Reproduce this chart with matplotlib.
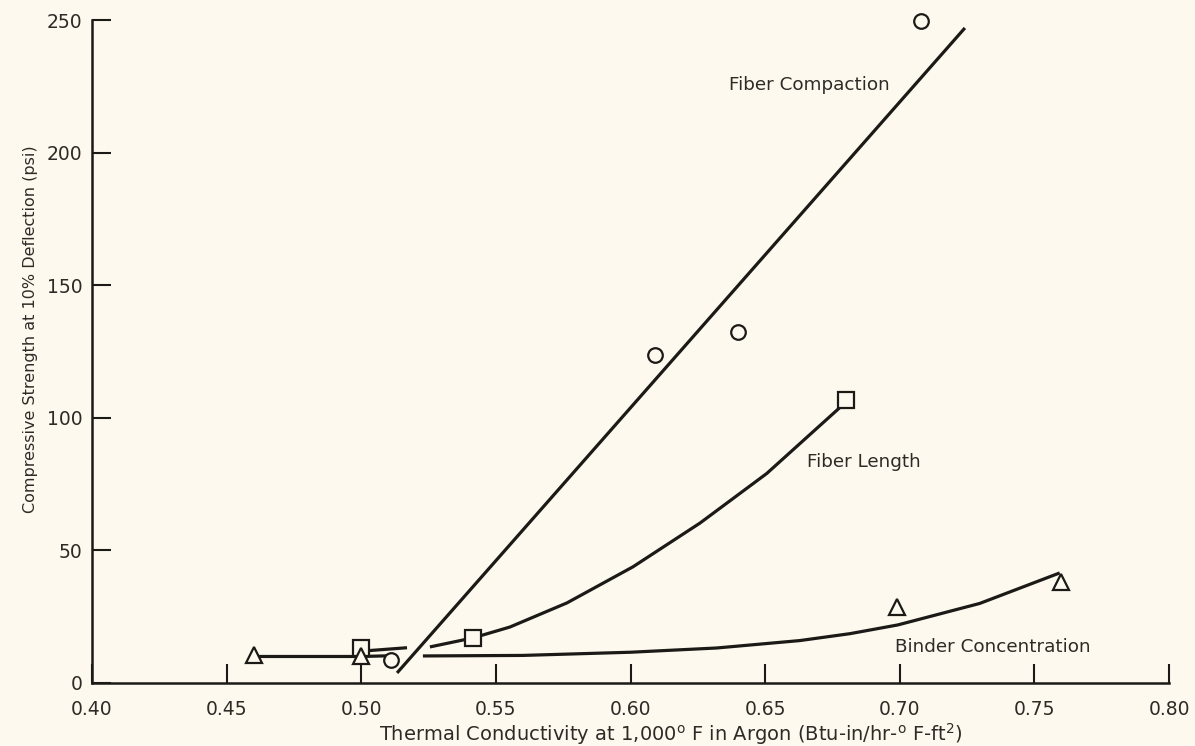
import matplotlib
matplotlib.use("Agg")
import matplotlib.pyplot as plt

# ---- data ----
compaction_x = [0.511, 0.609, 0.640, 0.708]
compaction_y = [8.7, 123.7, 132.4, 249.6]
compaction_line_x = [0.5133, 0.7242]
compaction_line_y = [3.8, 247.0]

length_x = [0.50, 0.5415, 0.680]
length_y = [13.2, 17.0, 106.7]
length_left_x = [0.50, 0.517]
length_left_y = [12.0, 13.3]
length_curve_x = [0.5255, 0.5415, 0.5552, 0.5764, 0.6009, 0.6258, 0.6506, 0.679]
length_curve_y = [13.6, 17.0, 21.1, 30.2, 43.8, 60.3, 79.0, 105.0]

binder_x = [0.46, 0.50, 0.699, 0.760]
binder_y = [10.5, 10.2, 28.5, 38.0]
binder_left_x = [0.46, 0.50, 0.512]
binder_left_y = [10.0, 10.0, 10.3]
binder_curve_x = [0.5229, 0.56, 0.60, 0.632, 0.6629, 0.6815, 0.6993, 0.7297, 0.7594]
binder_curve_y = [10.2, 10.4, 11.6, 13.2, 16.0, 18.6, 21.9, 30.0, 41.5]

x_ticks = [0.40, 0.45, 0.50, 0.55, 0.60, 0.65, 0.70, 0.75, 0.80]
x_tick_labels = ["0.40", "0.45", "0.50", "0.55", "0.60", "0.65", "0.70", "0.75", "0.80"]
y_ticks = [0, 50, 100, 150, 200, 250]
y_tick_labels = ["0", "50", "100", "150", "200", "250"]

plt.rcParams['font.family'] = ['DejaVu Sans']
bg = '#fdf9ee'
ink = '#1c1a17'
txt = '#2e2b27'

fig = plt.figure(figsize=(11.95, 7.46), dpi=100, facecolor=bg)
ax = fig.add_axes([92/1195, 1-683/746, 1077/1195, 663/746])
ax.set_facecolor(bg)

lw = 2.3
for xs, ys in [(compaction_line_x, compaction_line_y),
               (length_left_x, length_left_y),
               (length_curve_x, length_curve_y),
               (binder_left_x, binder_left_y),
               (binder_curve_x, binder_curve_y)]:
    ax.plot(xs, ys, color=ink, lw=lw, solid_capstyle='butt', solid_joinstyle='round')

mk = dict(linestyle='none', markerfacecolor=bg, markeredgecolor=ink,
          markeredgewidth=1.6, zorder=5, clip_on=False)
ax.plot(compaction_x, compaction_y, marker='o', markersize=10.5, **mk)
ax.plot(length_x, length_y, marker='s', markersize=11.5, **mk)
ax.plot(binder_x, binder_y, marker='^', markersize=11.5, **mk)

ax.text(0.6365, 225.5, "Fiber Compaction", fontsize=13.2, color=txt, va='center', ha='left')
ax.text(0.6655, 83.3, "Fiber Length", fontsize=13.2, color=txt, va='center', ha='left')
ax.text(0.6982, 13.6, "Binder Concentration", fontsize=13.2, color=txt, va='center', ha='left')

ax.set_xlim(0.40, 0.80)
ax.set_ylim(0, 250)
ax.set_xticks(x_ticks)
ax.set_xticklabels(x_tick_labels)
ax.set_yticks(y_ticks)
ax.set_yticklabels(y_tick_labels)

for s in ['top', 'right']:
    ax.spines[s].set_visible(False)
for s in ['left', 'bottom']:
    ax.spines[s].set_linewidth(1.8)
    ax.spines[s].set_color(ink)

ax.tick_params(axis='both', direction='in', length=14, width=1.5, color=ink,
               labelsize=13.5, labelcolor=txt)
ax.tick_params(axis='x', pad=12)
ax.tick_params(axis='y', pad=7)

ax.set_xlabel("Thermal Conductivity at 1,000$^\\mathregular{o}$ F in Argon (Btu-in/hr-$^\\mathregular{o}$ F-ft$^\\mathregular{2}$)",
              fontsize=14, color=txt)
ax.xaxis.set_label_coords((671 - 92) / 1077, -0.058)
ax.set_ylabel("Compressive Strength at 10% Deflection (psi)", fontsize=11.5, color=txt)
ax.yaxis.set_label_coords(-54 / 1077, 0.534)

fig.savefig("out.png", dpi=100, facecolor=bg)
